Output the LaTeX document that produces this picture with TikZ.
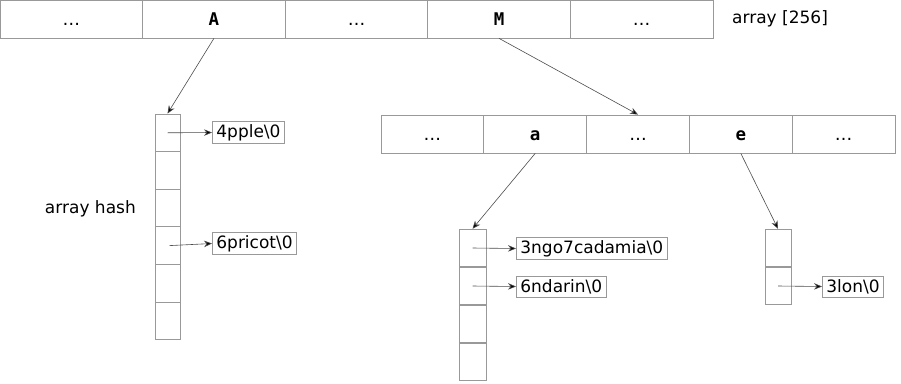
\documentclass[tikz,border=0pt]{standalone}
\usepackage{fontspec}
\setmainfont{DejaVu Sans}
\newfontfamily\cellfont{DejaVu Sans Mono}
\usetikzlibrary{arrows.meta}
\tikzset{
  celltext/.style={font=\fontsize{17.5}{20}\selectfont\cellfont\bfseries, text height=13pt, text depth=0pt},
  labeltext/.style={font=\fontsize{17}{20}\selectfont}
}
\tikzset{
  topcell/.style={draw=gray!80, line width=0.8pt, minimum width=142.6pt, minimum height=38pt, inner sep=0pt, celltext},
  subcell/.style={draw=gray!80, line width=0.8pt, minimum width=102.8pt, minimum height=38pt, inner sep=0pt, celltext},
  slot/.style={draw=gray!80, line width=0.8pt, minimum width=#1, minimum height=37.6pt, inner sep=0pt},
  strbox/.style={draw=gray!80, line width=0.8pt, anchor=west, minimum height=21pt, inner xsep=4pt, inner ysep=2.5pt, labeltext},
  ptr/.style={draw=black!70, line width=0.6pt, -{Stealth[length=8pt,width=6.5pt,fill=black]}}
}
\newcommand{\dotsym}{{\normalfont\fontsize{17.5}{20}\selectfont …}}

\begin{document}
\begin{tikzpicture}[x=1pt, y=-1pt]
      \useasboundingbox (0,0) rectangle (901,383);
      % array [256]
      \node[topcell] (t1) at (71.3,19) {\dotsym};
      \node[topcell] (tA) at (213.9,19) {A};
      \node[topcell] (t3) at (356.5,19) {\dotsym};
      \node[topcell] (tM) at (499.1,19) {M};
      \node[topcell] (t5) at (641.7,19) {\dotsym};
      \node[anchor=west, inner sep=0pt, labeltext] (tlabel) at (732,19) {array [256]};
      % array hash under A
      \node[slot=25pt] (h1) at (167.5,132.8) {};
      \node[slot=25pt] (h2) at (167.5,170.4) {};
      \node[slot=25pt] (h3) at (167.5,208) {};
      \node[slot=25pt] (h4) at (167.5,245.6) {};
      \node[slot=25pt] (h5) at (167.5,283.2) {};
      \node[slot=25pt] (h6) at (167.5,320.8) {};
      \node[anchor=east, inner sep=0pt, labeltext] (hlabel) at (136,209) {array hash};
      \node[strbox] (apple) at (212,132.5) {4pple\textbackslash0};
      \node[strbox] (apricot) at (212,243.5) {6pricot\textbackslash0};
      % sub array under M
      \node[subcell] (s1) at (432.4,134) {\dotsym};
      \node[subcell] (sa) at (535.2,134) {a};
      \node[subcell] (s3) at (638,134) {\dotsym};
      \node[subcell] (se) at (740.8,134) {e};
      \node[subcell] (s5) at (843.6,134) {\dotsym};
      % bucket under a
      \node[slot=27pt] (b1) at (472.5,248) {};
      \node[slot=27pt] (b2) at (472.5,286) {};
      \node[slot=27pt] (b3) at (472.5,324) {};
      \node[slot=27pt] (b4) at (472.5,362) {};
      \node[strbox] (macadamia) at (516,248.5) {3ngo7cadamia\textbackslash0};
      \node[strbox] (mandarin) at (516,286.5) {6ndarin\textbackslash0};
      % bucket under e
      \node[slot=26pt] (c1) at (778,248) {};
      \node[slot=26pt] (c2) at (778,286) {};
      \node[strbox] (melon) at (822,286.5) {3lon\textbackslash0};
      % pointers
      \draw[ptr] (tA.south) -- (h1.north);
      \draw[ptr] (tM.south) -- (s3.north);
      \draw[ptr] (sa.south) -- (b1.north);
      \draw[ptr] (se.south) -- (c1.north);
      \draw[ptr] (h1.center) -- (apple.west);
      \draw[ptr] ([xshift=2pt]h4.center) -- (apricot.west);
      \draw[ptr] (b1.center) -- (macadamia.west);
      \draw[ptr] (b2.center) -- (mandarin.west);
      \draw[ptr] (c2.center) -- (melon.west);
    \end{tikzpicture}
\end{document}
